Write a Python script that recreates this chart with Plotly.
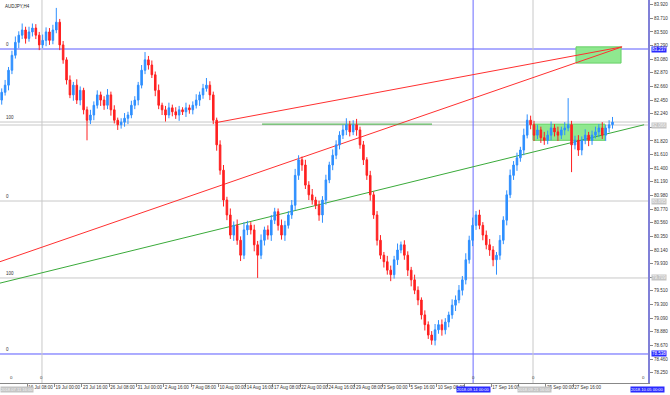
import plotly.graph_objects as go

# ---------------- data ----------------
symbol_title = "AUDJPY,H4"
first_open = 82.45
close = [
    82.57, 82.68, 82.91, 83.14, 83.34, 83.45, 83.53, 83.40, 83.50, 83.56,
    83.45, 83.30, 83.37, 83.50, 83.37, 83.53, 83.65, 83.30, 83.07, 82.76,
    82.53, 82.68, 82.45, 82.60, 82.30, 82.14, 82.22, 82.37, 82.53, 82.45,
    82.37, 82.53, 82.30, 82.14, 82.07, 82.11, 82.17, 82.22, 82.37, 82.45,
    82.68, 82.91, 83.07, 82.99, 82.84, 82.60, 82.37, 82.30, 82.22, 82.33,
    82.27, 82.22, 82.30, 82.27, 82.33, 82.30, 82.37, 82.45, 82.53, 82.63,
    82.68, 82.53, 82.14, 81.76, 81.37, 80.91, 80.68, 80.37, 80.52, 80.29,
    80.06, 80.45, 80.52, 80.45, 80.22, 80.06, 80.29, 80.45, 80.37, 80.60,
    80.73, 80.52, 80.37, 80.52, 80.68, 80.83, 81.29, 81.53, 81.45, 81.14,
    80.99, 80.91, 80.83, 80.68, 80.91, 81.22, 81.45, 81.60, 81.76, 81.91,
    81.99, 82.07, 81.96, 82.07, 81.99, 81.76, 81.53, 81.29, 80.99, 80.68,
    80.29, 80.06, 79.96, 79.83, 79.76, 79.99, 80.14, 80.22, 80.06, 79.83,
    79.68, 79.52, 79.37, 79.14, 78.99, 78.83, 78.75, 78.91, 78.99, 78.91,
    79.03, 79.14, 79.29, 79.37, 79.52, 79.68, 79.99, 80.29, 80.52, 80.68,
    80.52, 80.37, 80.22, 80.14, 79.99, 80.06, 80.29, 80.60, 80.99, 81.29,
    81.45, 81.56, 81.68, 81.91, 82.14, 82.07, 81.91, 81.99, 81.87, 81.83,
    81.91, 82.02, 81.96, 81.91, 81.99, 82.02, 82.07, 81.76, 81.83, 81.68,
    81.83, 81.91, 81.83, 81.91, 81.96, 82.02, 81.91, 82.02, 82.07, 82.11,
]
# upper / lower wick lengths (hundredths of a yen)
wick_hi = [
    6, 8, 5, 7, 9, 6, 10, 5, 8, 7,
    6, 5, 9, 7, 6, 8, 22, 5, 6, 4,
    7, 5, 9, 6, 4, 5, 8, 6, 7, 5,
    6, 9, 5, 7, 4, 6, 8, 5, 7, 6,
    5, 8, 12, 6, 7, 5, 9, 4, 6, 8,
    5, 7, 6, 4, 8, 5, 6, 9, 5, 7,
    11, 6, 5, 4, 7, 8, 5, 10, 6, 9,
    6, 12, 7, 5, 8, 6, 9, 5, 7, 8,
    6, 5, 9, 7, 6, 8, 10, 7, 5, 8,
    6, 9, 5, 7, 6, 8, 5, 9, 7, 6,
    8, 10, 6, 7, 9, 5, 6, 4, 7, 5,
    6, 8, 5, 9, 7, 6, 10, 5, 7, 6,
    5, 8, 6, 4, 7, 5, 6, 9, 7, 8,
    6, 5, 9, 7, 8, 6, 10, 7, 12, 6,
    8, 5, 7, 9, 6, 5, 8, 6, 7, 9,
    6, 8, 5, 10, 9, 7, 6, 8, 5, 9,
    7, 10, 6, 8, 5, 9, 41, 6, 7, 8,
    6, 9, 5, 7, 8, 6, 9, 5, 7, 8,
]
wick_lo = [
    7, 5, 8, 6, 5, 9, 6, 8, 5, 7,
    6, 8, 5, 9, 7, 6, 5, 8, 6, 7,
    5, 9, 6, 8, 7, 31, 6, 8, 5, 9,
    7, 6, 9, 5, 8, 6, 7, 9, 5, 6,
    8, 5, 6, 7, 5, 9, 6, 8, 10, 5,
    7, 6, 9, 5, 8, 6, 7, 5, 9, 6,
    5, 8, 6, 9, 7, 10, 8, 6, 9, 7,
    9, 6, 8, 7, 10, 35, 6, 8, 7, 9,
    6, 8, 7, 9, 5, 6, 8, 7, 9, 6,
    8, 7, 6, 9, 12, 7, 5, 8, 6, 7,
    6, 8, 7, 5, 9, 6, 8, 7, 9, 6,
    8, 6, 9, 7, 10, 6, 8, 5, 7, 9,
    10, 6, 8, 7, 9, 6, 7, 8, 6, 9,
    7, 8, 6, 9, 5, 8, 7, 6, 9, 7,
    6, 8, 7, 9, 10, 23, 7, 6, 8, 5,
    7, 9, 6, 8, 5, 7, 9, 6, 8, 7,
    6, 8, 7, 9, 6, 8, 5, 42, 7, 9,
    8, 6, 9, 7, 5, 8, 6, 9, 7, 6,
]

# price axis ticks (labels hidden where a price box covers them)
price_ticks = [83.92, 83.71, 83.50, 83.29, 83.08, 82.87, 82.66, 82.45, 82.24, 82.03,
               81.82, 81.61, 81.40, 81.19, 80.98, 80.77, 80.56, 80.35, 80.14, 79.93,
               79.72, 79.51, 79.30, 79.09, 78.88, 78.67, 78.46, 78.25]
price_tick_labels = ["83.920", "83.710", "83.500", "83.290", "83.080", "82.870", "82.660",
                     "82.450", "82.240", "", "81.820", "81.610", "81.400", "81.190",
                     "80.980", "80.770", "80.560", "80.350", "80.140", "79.930", "",
                     "79.510", "79.300", "79.090", "78.880", "78.670", "78.460", "78.250"]
# time axis ticks (H4 bar index -> label; labels under the time boxes left blank)
time_tick_bars = [16, 32, 48, 64, 80, 96, 112, 128, 144, 160, 176, 192, 208, 224,
                  240, 256, 272, 288, 304, 320, 336]
time_tick_labels = ["16 Jul 08:00", "19 Jul 00:00", "23 Jul 16:00", "26 Jul 08:00",
                    "31 Jul 00:00", "2 Aug 16:00", "7 Aug 08:00", "10 Aug 00:00",
                    "14 Aug 16:00", "17 Aug 08:00", "22 Aug 00:00", "24 Aug 16:00",
                    "29 Aug 08:00", "3 Sep 00:00", "5 Sep 16:00", "10 Sep 08:00",
                    "", "17 Sep 16:00", "", "25 Sep 00:00",
                    "27 Sep 16:00"]

# drawn objects (bar index, price)
blue_hlines = [83.237, 78.538]
gray_hlines = [82.112, 82.066, 80.895, 79.709]
level_texts = [(83.237, "0"), (82.112, "100"), (80.895, "0"), (79.709, "100"), (78.538, "0")]
gray_vlines = [24.6, 312.4]
blue_vlines = [277.3]
red_trends = [((0, 79.96), (364.6, 83.27)), ((126.0, 82.10), (364.6, 83.27))]
green_trends = [((0, 79.63), (377.5, 82.07))]
green_hsegs = [((153.6, 82.08), (253.2, 82.08))]
green_boxes = [(337.6, 364.0, 83.02, 83.27), (312.4, 354.6, 81.83, 82.08)]
price_boxes = [(83.237, "83.237", "#2a2aff", "white"), (82.066, "82.066", "#c4c4c4", "#f4f4f4"),
               (80.895, "80.895", "#c4c4c4", "#f4f4f4"), (79.709, "79.709", "#c4c4c4", "#f4f4f4"),
               (78.538, "78.538", "#2a2aff", "white")]
time_boxes = [(0, "2018.07.11 16:00", "#c4c4c4", "#f4f4f4", "left"),
              (277.3, "2018.09.14 00:00", "#2a2aff", "white", "center"),
              (313.5, "2018.09.21 16:00", "#c4c4c4", "#f4f4f4", "center")]

# ---------------- build ----------------
opens = [first_open] + close[:-1]
highs = [max(o, c) + w / 100 for o, c, w in zip(opens, close, wick_hi)]
lows = [min(o, c) - w / 100 for o, c, w in zip(opens, close, wick_lo)]
xs = [2 * i + 1 for i in range(len(close))]

FONT = "Liberation Sans"
FS = 4.5
FSB = 4.1
fig = go.Figure()
fig.add_trace(go.Candlestick(
    x=xs, open=opens, high=highs, low=lows, close=close,
    increasing=dict(line=dict(color="#2e8fff", width=1), fillcolor="#2e8fff"),
    decreasing=dict(line=dict(color="#ff2020", width=1), fillcolor="#ff2020"),
    whiskerwidth=0, showlegend=False, hoverinfo="skip"))

shapes = []
for p in gray_hlines:
    shapes.append(dict(type="line", xref="paper", x0=0, x1=1, yref="y", y0=p, y1=p,
                       line=dict(color="#c8c8c8", width=1), layer="below"))
for p in blue_hlines:
    shapes.append(dict(type="line", xref="paper", x0=0, x1=1, yref="y", y0=p, y1=p,
                       line=dict(color="#5a5aff", width=1), layer="below"))
for b in gray_vlines:
    shapes.append(dict(type="line", xref="x", x0=b, x1=b, yref="paper", y0=0, y1=1,
                       line=dict(color="#c8c8c8", width=1), layer="below"))
for b in blue_vlines:
    shapes.append(dict(type="line", xref="x", x0=b, x1=b, yref="paper", y0=0, y1=1,
                       line=dict(color="#6a6aff", width=1), layer="below"))
for x0, x1, y0, y1 in green_boxes:
    shapes.append(dict(type="rect", xref="x", yref="y", x0=x0, x1=x1, y0=y0, y1=y1,
                       fillcolor="#8fe88f", line=dict(color="#66d066", width=1), layer="below"))
for (a, b) in red_trends:
    shapes.append(dict(type="line", xref="x", yref="y", x0=a[0], y0=a[1], x1=b[0], y1=b[1],
                       line=dict(color="#ff3030", width=1), layer="below"))
for (a, b) in green_trends + green_hsegs:
    shapes.append(dict(type="line", xref="x", yref="y", x0=a[0], y0=a[1], x1=b[0], y1=b[1],
                       line=dict(color="#3aaa3a", width=1), layer="below"))

ann = []
ann.append(dict(text=symbol_title, xref="paper", yref="paper", x=0.004, y=0.995,
                xanchor="left", yanchor="top", showarrow=False,
                font=dict(family=FONT, size=FS, color="#222")))
for p, t in level_texts:
    ann.append(dict(text=t, xref="paper", yref="y", x=0.006, y=p, xanchor="left",
                    yanchor="bottom", showarrow=False, font=dict(family=FONT, size=FS, color="#333")))
for p, t, bg, fc in price_boxes:
    ann.append(dict(text=t, xref="paper", yref="y", x=1.0, y=p, xanchor="left", yanchor="middle",
                    xshift=3, showarrow=False, bgcolor=bg, borderpad=0,
                    font=dict(family=FONT, size=FS, color=fc)))
for b, t, bg, fc, anc in time_boxes:
    ann.append(dict(text=t, xref="x", yref="paper", x=b, y=0, xanchor=anc, yanchor="top",
                    yshift=-3, showarrow=False, bgcolor=bg, borderpad=0,
                    font=dict(family=FONT, size=FSB, color=fc)))
ann.append(dict(text="2018.10.05 00:00", xref="paper", yref="paper", x=0.972, y=0, xanchor="left",
                yanchor="top", yshift=-3, showarrow=False, bgcolor="#2a2aff", borderpad=0,
                font=dict(family=FONT, size=FSB, color="white")))
for b in [7.0] + blue_vlines + gray_vlines + [377.0]:
    ann.append(dict(text="o", xref="x", yref="paper", x=b, y=0, xanchor="center", yanchor="bottom",
                    yshift=1, showarrow=False, font=dict(family=FONT, size=FS, color="#555")))

fig.update_layout(
    width=670, height=395,
    margin=dict(l=0, r=22, t=0, b=12),
    paper_bgcolor="white", plot_bgcolor="white",
    shapes=shapes, annotations=ann,
    boxgap=0.35,
    font=dict(family=FONT, size=FS, color="#333"),
    xaxis=dict(range=[0, 379.8], rangeslider=dict(visible=False), showgrid=False,
               zeroline=False, showline=True, linecolor="#888", linewidth=1,
               ticks="outside", ticklen=3, tickcolor="#888",
               tickvals=time_tick_bars, ticktext=time_tick_labels, tickangle=0,
               ticklabelposition="outside right", ticklabeloverflow="allow",
               tickfont=dict(family=FONT, size=FS, color="#333"), automargin=False),
    yaxis=dict(range=[78.091, 83.992], side="right", showgrid=False, zeroline=False,
               showline=True, linecolor="#8080d8", linewidth=2,
               ticks="outside", ticklen=3, tickcolor="#888",
               tickvals=price_ticks, ticktext=price_tick_labels,
               ticklabeloverflow="allow",
               tickfont=dict(family=FONT, size=FS, color="#333"), automargin=False),
)
fig.write_html("out.html", config={"displayModeBar": False},
               post_script="document.body.style.margin='0px';document.body.style.overflow='hidden';")
